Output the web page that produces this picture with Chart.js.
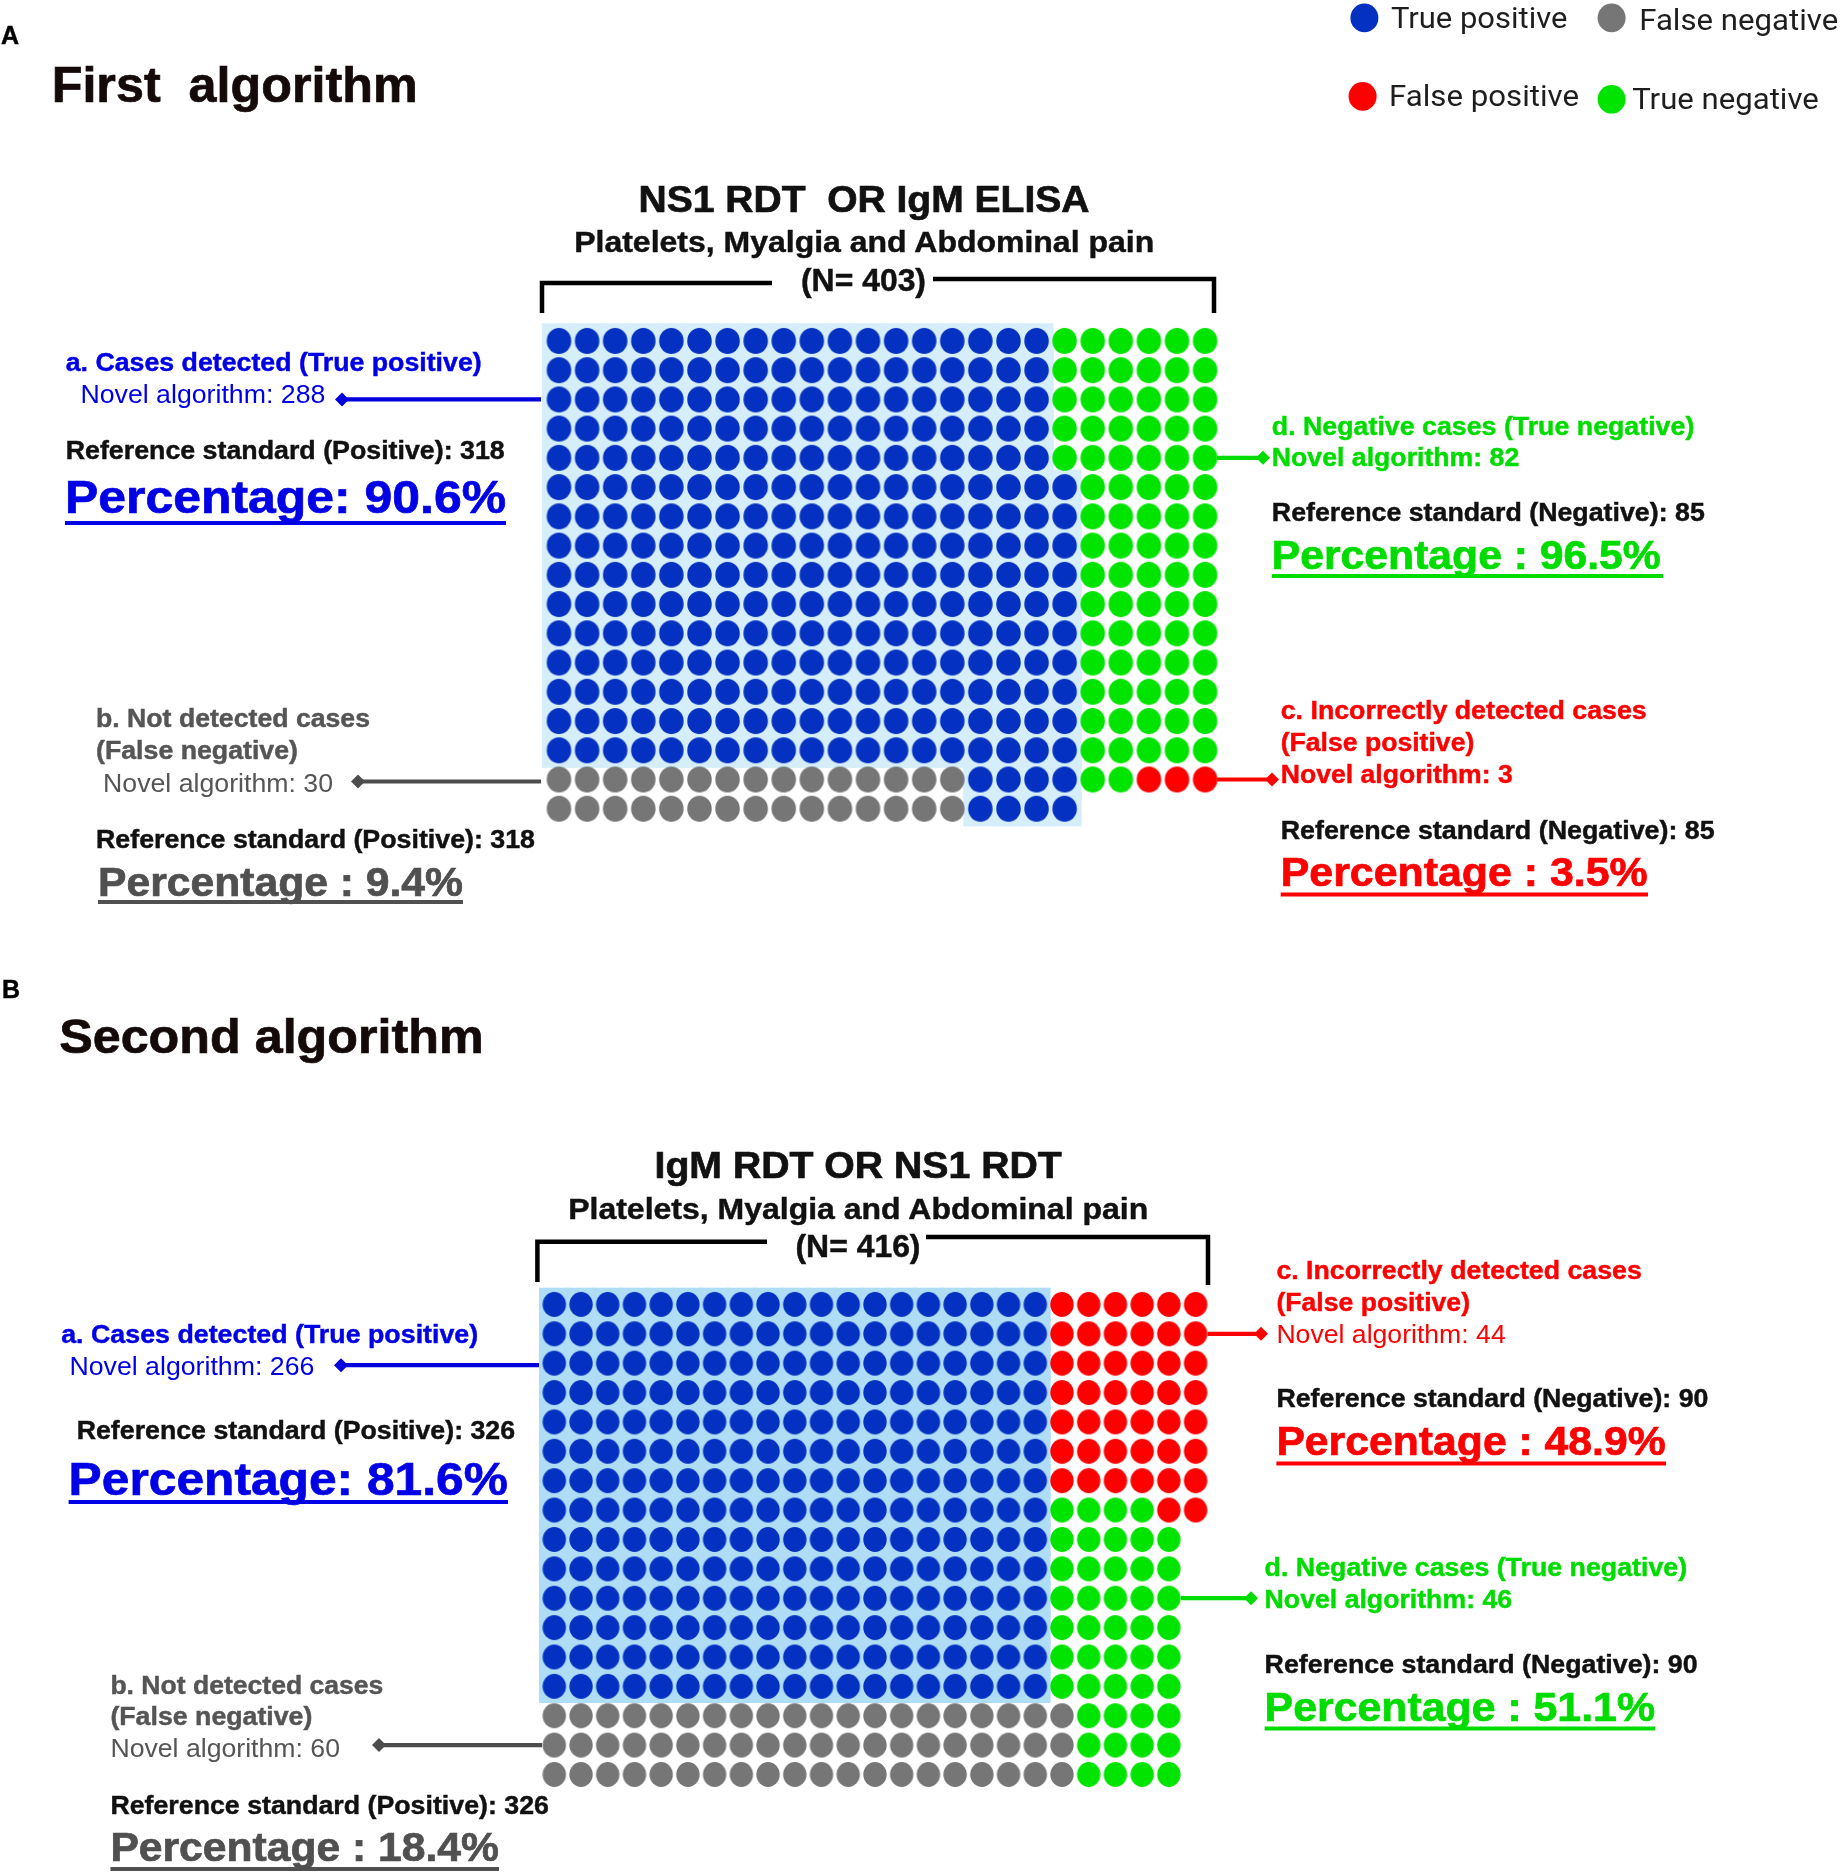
<!DOCTYPE html>
<html>
<head>
<meta charset="utf-8">
<script src="https://cdn.jsdelivr.net/npm/chart.js@4.4.0/dist/chart.umd.min.js"></script>
<style>
html,body{margin:0;padding:0;background:#fff}
#page{position:relative;width:1843px;height:1876px;overflow:hidden;background:#fff}
#page canvas{position:absolute}
#page svg{position:absolute;left:0;top:0}
#page text{white-space:pre}
</style>
</head>
<body>
<div id="page"></div>
<script>
// categories and colours
const categories = ["True positive", "False negative", "False positive", "True negative"]
const dotColors = ["#0531c2", "#767676", "#ff0000", "#00e400"]
const textColors = ["#0000e6", "#555555", "#ff0000", "#00dc00"]

// first algorithm
const countsA = [288, 30, 3, 82]
const refA = [318, 85]          // reference positive / negative
const pctA = [90.6, 9.4, 3.5, 96.5]

// second algorithm
const countsB = [266, 60, 44, 46]
const refB = [326, 90]
const pctB = [81.6, 18.4, 48.9, 51.1]

// waffle cells, one string per row: 0=TP 1=FN 2=FP 3=TN .=empty
const gridA = [
"000000000000000000333333",
"000000000000000000333333",
"000000000000000000333333",
"000000000000000000333333",
"000000000000000000333333",
"000000000000000000033333",
"000000000000000000033333",
"000000000000000000033333",
"000000000000000000033333",
"000000000000000000033333",
"000000000000000000033333",
"000000000000000000033333",
"000000000000000000033333",
"000000000000000000033333",
"000000000000000000033333",
"111111111111111000033222",
"1111111111111110000....."
]

const gridB = [
"0000000000000000000222222",
"0000000000000000000222222",
"0000000000000000000222222",
"0000000000000000000222222",
"0000000000000000000222222",
"0000000000000000000222222",
"0000000000000000000222222",
"0000000000000000000333322",
"000000000000000000033333.",
"000000000000000000033333.",
"000000000000000000033333.",
"000000000000000000033333.",
"000000000000000000033333.",
"000000000000000000033333.",
"111111111111111111113333.",
"111111111111111111113333.",
"111111111111111111113333."
]

const sum = a => a.reduce((s, v) => s + v, 0)
const page = document.getElementById("page")

function makeDot(color, w, h){
let c = document.createElement("canvas")
c.width = Math.ceil(w) + 2
c.height = Math.ceil(h) + 2
let g = c.getContext("2d")
g.fillStyle = color
g.beginPath()
g.ellipse(c.width / 2, c.height / 2, w / 2, h / 2, 0, 0, Math.PI * 2)
g.fill()
return c
}

// light blue patch behind the true positive cells
const cellBg = {
id: "cellbg",
beforeDatasetsDraw(chart, args, opts){
let {x, y} = chart.scales
let ctx = chart.ctx
ctx.save()
ctx.fillStyle = opts.color
chart.data.datasets[0].data.forEach(p => {
let l = x.getPixelForValue(p.x - 0.5) - opts.pad
let r = x.getPixelForValue(p.x + 0.5) + opts.pad
let a = y.getPixelForValue(p.y - 0.5), b = y.getPixelForValue(p.y + 0.5)
let t = Math.min(a, b) - opts.pad, btm = Math.max(a, b) + opts.pad
ctx.fillRect(l, t, r - l, btm - t)
})
ctx.restore()
}
}

const panelA = {grid: gridA, counts: countsA, x0: 559, dx: 28.09, y0: 340.9, dy: 29.24, dotW: 24.5, dotH: 26, pad: 3, bg: "#d6eefa"}
const panelB = {grid: gridB, counts: countsB, x0: 554.3, dx: 26.72, y0: 1304.4, dy: 29.38, dotW: 23.4, dotH: 25, pad: 2, bg: "#b0ddf6"}

const rowY = (p, r) => p.y0 + r * p.dy
const colX = (p, c) => p.x0 + c * p.dx

function drawPanel(p){
let cols = p.grid[0].length, rows = p.grid.length, M = 20
let areaL = p.x0 - p.dx / 2, areaT = p.y0 - p.dy / 2
let areaW = cols * p.dx, areaH = rows * p.dy
let left = Math.floor(areaL - M), top = Math.floor(areaT - M)
let width = Math.ceil(areaL + areaW + M) - left
let height = Math.ceil(areaT + areaH + M) - top

let cv = document.createElement("canvas")
cv.width = width
cv.height = height
cv.style.left = left + "px"
cv.style.top = top + "px"
cv.style.width = width + "px"
cv.style.height = height + "px"
page.appendChild(cv)

let datasets = categories.map((label, k) => ({
label: label,
data: [],
pointStyle: makeDot(dotColors[k], p.dotW, p.dotH),
pointRadius: 12,
pointHoverRadius: 12,
showLine: false
}))

p.grid.forEach((row, r) => {
for (let c = 0; c < row.length; c++){
if (row[c] !== ".") datasets[+row[c]].data.push({x: c, y: r})
}
})

datasets.forEach((d, k) => {
if (d.data.length !== p.counts[k]) throw new Error("grid mismatch " + categories[k] + " " + d.data.length + " vs " + p.counts[k])
})

new Chart(cv, {
type: "scatter",
data: {datasets: datasets},
options: {
responsive: false,
animation: false,
events: [],
layout: {padding: {
left: areaL - left,
top: areaT - top,
right: left + width - (areaL + areaW),
bottom: top + height - (areaT + areaH)
}},
scales: {
x: {type: "linear", min: -0.5, max: cols - 0.5, display: false},
y: {type: "linear", min: -0.5, max: rows - 0.5, reverse: true, display: false}
},
plugins: {
legend: {display: false},
tooltip: {enabled: false},
cellbg: {color: p.bg, pad: p.pad}
}
},
plugins: [cellBg]
})
}

drawPanel(panelA)
drawPanel(panelB)

// text, brackets and arrows
const NS = "http://www.w3.org/2000/svg"
const svg = document.createElementNS(NS, "svg")
svg.setAttribute("width", 1843)
svg.setAttribute("height", 1876)
page.appendChild(svg)

function el(tag, attrs){
let e = document.createElementNS(NS, tag)
for (let k in attrs) e.setAttribute(k, attrs[k])
svg.appendChild(e)
return e
}

const SANS = '"Liberation Sans", Arimo, Arial, Helvetica, sans-serif'

function T(x, y, s, size, weight, fill, w, family){
let a = {x: x, y: y, "font-size": size, "font-weight": weight, fill: fill, "font-family": family || SANS}
if (w){ a.textLength = w; a.lengthAdjust = "spacingAndGlyphs" }
// the source text is a little heavier than plain bold
if (weight === "bold"){ a.stroke = fill; a["stroke-width"] = size > 35 ? 0.7 : 0.45 }
el("text", a).textContent = s
}

function U(x1, x2, y, color){
el("line", {x1: x1, x2: x2, y1: y, y2: y, stroke: color, "stroke-width": 4})
}

function arrow(x1, x2, y, color){
el("line", {x1: x1, x2: x2, y1: y, y2: y, stroke: color, "stroke-width": 4.2})
el("polygon", {points: `${x2-7},${y} ${x2},${y-7} ${x2+7},${y} ${x2},${y+7}`, fill: color})
}

function bracket(l, r, yl, yr, bottomL, bottomR, gapL, gapR){
el("polyline", {points: `${l},${bottomL} ${l},${yl} ${gapL},${yl}`, fill: "none", stroke: "#000", "stroke-width": 4.5})
el("polyline", {points: `${gapR},${yr} ${r},${yr} ${r},${bottomR}`, fill: "none", stroke: "#000", "stroke-width": 4.5})
}

const blue = textColors[0], gray = textColors[1], red = textColors[2], green = textColors[3]
const grayP = "#505050", black = "#111111"
const pct = v => v.toFixed(1) + "%"

// legend
const legendPos = [
{cx: 1364.4, cy: 17.9, tx: 1390.9, ty: 27.9, w: 176.6},
{cx: 1611.6, cy: 17.9, tx: 1639.2, ty: 30.4, w: 199},
{cx: 1362.6, cy: 96.4, tx: 1389, ty: 106.4, w: 190},
{cx: 1611.6, cy: 99.3, tx: 1632.2, ty: 109, w: 186.6}
]
categories.forEach((c, k) => {
let L = legendPos[k]
el("ellipse", {cx: L.cx, cy: L.cy, rx: 14, ry: 14.3, fill: dotColors[k]})
T(L.tx, L.ty, c, 29, "normal", "#1e1e1e", L.w, "Roboto, sans-serif")
})

// panel A
T(1, 43.6, "A", 25, "bold", "#000")
T(51.7, 101.8, "First  algorithm", 50, "bold", "#140a0a", 366)
T(638.5, 212.3, "NS1 RDT  OR IgM ELISA", 36, "bold", black, 451)
T(574.2, 251.7, "Platelets, Myalgia and Abdominal pain", 30, "bold", black, 580)
T(801, 291, "(N= " + sum(countsA) + ")", 31, "bold", black, 125)
bracket(542, 1214, 283, 279, 313, 313, 772, 933)

T(65.7, 371, "a. Cases detected (True positive)", 26, "bold", blue, 416)
T(80.4, 402.5, "Novel algorithm: " + countsA[0], 26, "normal", blue, 245)
arrow(541, 342, rowY(panelA, 2), "#0000dd")
T(65.7, 458.6, "Reference standard (Positive): " + refA[0], 26, "bold", black, 439)
T(65, 512.9, "Percentage: " + pct(pctA[0]), 46, "bold", blue, 441)
U(65, 506, 523, blue)

T(96, 727, "b. Not detected cases", 26, "bold", gray, 274)
T(96, 758.6, "(False negative)", 26, "bold", gray, 202)
T(103, 791.8, "Novel algorithm: " + countsA[1], 26, "normal", gray, 230)
arrow(541, 358, rowY(panelA, 15) + 2, "#4d4d4d")
T(96, 848, "Reference standard (Positive): " + refA[0], 26, "bold", black, 439)
T(98, 895.5, "Percentage : " + pct(pctA[1]), 40, "bold", grayP, 365)
U(98, 463, 902, grayP)

T(1271.8, 434.6, "d. Negative cases (True negative)", 26, "bold", green, 422.5)
T(1271.8, 465.7, "Novel algorithm: " + countsA[3], 26, "bold", green, 247.5)
arrow(colX(panelA, 23) + 12, 1263, rowY(panelA, 4), green)
T(1271.8, 521.4, "Reference standard (Negative): " + refA[1], 26, "bold", black, 433)
T(1271.8, 568.6, "Percentage : " + pct(pctA[3]), 40, "bold", green, 389)
U(1271.8, 1663, 576, green)

T(1280.7, 718.6, "c. Incorrectly detected cases", 26, "bold", red, 366)
T(1280.7, 750.7, "(False positive)", 26, "bold", red, 193.6)
T(1280.7, 782.9, "Novel algorithm: " + countsA[2], 26, "bold", red, 232)
arrow(colX(panelA, 23) + 12, 1272, rowY(panelA, 15), red)
T(1280.7, 839.3, "Reference standard (Negative): " + refA[1], 26, "bold", black, 434)
T(1280.7, 886.4, "Percentage : " + pct(pctA[2]), 40, "bold", red, 367)
U(1280.7, 1648, 894.5, red)

// panel B
T(2, 998, "B", 25, "bold", "#000")
T(59.2, 1052.7, "Second algorithm", 48, "bold", "#140a0a", 424.5)
T(654.5, 1178.3, "IgM RDT OR NS1 RDT", 36, "bold", black, 407.3)
T(568.2, 1219, "Platelets, Myalgia and Abdominal pain", 30, "bold", black, 580)
T(795.5, 1256.7, "(N= " + sum(countsB) + ")", 31, "bold", black, 125)
bracket(537.4, 1208, 1241.7, 1237, 1282, 1285, 767, 926)

T(61.2, 1343, "a. Cases detected (True positive)", 26, "bold", blue, 417)
T(69.4, 1375, "Novel algorithm: " + countsB[0], 26, "normal", blue, 245)
arrow(539, 341, rowY(panelB, 2) + 2, "#0000dd")
T(76.7, 1439.4, "Reference standard (Positive): " + refB[0], 26, "bold", black, 438.4)
T(68.6, 1494.6, "Percentage: " + pct(pctB[0]), 46, "bold", blue, 439.3)
U(68.6, 508, 1502, blue)

T(110.4, 1693.5, "b. Not detected cases", 26, "bold", gray, 273)
T(110.4, 1724.9, "(False negative)", 26, "bold", gray, 202)
T(110.4, 1757, "Novel algorithm: " + countsB[1], 26, "normal", gray, 229.6)
arrow(542, 379, rowY(panelB, 15), "#4d4d4d")
T(110.4, 1813.5, "Reference standard (Positive): " + refB[0], 26, "bold", black, 438.5)
T(110.4, 1860.6, "Percentage : " + pct(pctB[1]), 40, "bold", grayP, 388.6)
U(110.4, 499, 1869, grayP)

T(1276.4, 1278.6, "c. Incorrectly detected cases", 26, "bold", red, 365.4)
T(1276.4, 1310.7, "(False positive)", 26, "bold", red, 193.6)
T(1276.4, 1342.9, "Novel algorithm: " + countsB[2], 26, "normal", red, 229.3)
arrow(colX(panelB, 24) + 12, 1261, rowY(panelB, 1), red)
T(1276.4, 1407.1, "Reference standard (Negative): " + refB[1], 26, "bold", black, 432)
T(1276.4, 1455.4, "Percentage : " + pct(pctB[2]), 40, "bold", red, 389.3)
U(1276.4, 1666, 1463.6, red)

T(1264.6, 1576, "d. Negative cases (True negative)", 26, "bold", green, 422.5)
T(1264.6, 1608.2, "Novel algorithm: " + countsB[3], 26, "bold", green, 247.5)
arrow(colX(panelB, 23) + 12, 1251, rowY(panelB, 10), green)
T(1264.6, 1672.5, "Reference standard (Negative): " + refB[1], 26, "bold", black, 433)
T(1264.6, 1720.7, "Percentage : " + pct(pctB[3]), 40, "bold", green, 390.4)
U(1264.6, 1655, 1728.6, green)
</script>
</body>
</html>
